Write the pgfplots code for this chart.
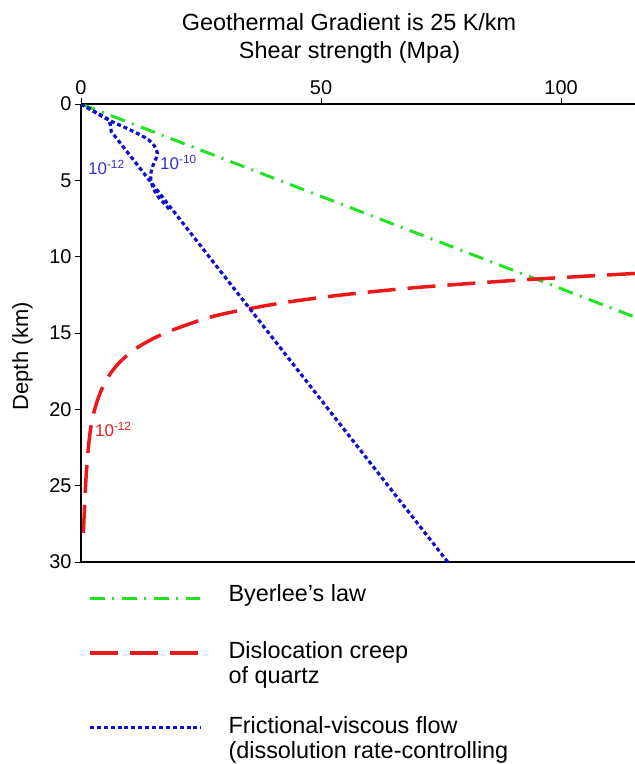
\documentclass[border=0pt]{standalone}
\usepackage{pgfplots}
\pgfplotsset{compat=1.18}
\usepackage{fontspec}
\setmainfont{Liberation Sans}
\definecolor{bgreen}{RGB}{35,225,35}
\definecolor{cred}{RGB}{235,25,25}
\definecolor{fblue}{RGB}{15,15,205}
\definecolor{lblue}{RGB}{50,50,200}
\tikzset{
  byer/.style={bgreen, line width=3bp, dash pattern=on 15bp off 7.5bp on 2bp off 7.5bp},
  creep/.style={cred, line width=3.5bp, dash pattern=on 28bp off 12bp},
  fv/.style={fblue, line width=3.2bp, dash pattern=on 4bp off 2.9bp},
}
\pgfplotsset{
  legbyer/.style={legend image code/.code={\path (0bp,0bp); \draw[byer] (0bp,2.3bp) -- (110bp,2.3bp);}},
  legcreep/.style={legend image code/.code={\path (0bp,0bp); \draw[creep] (0bp,30.7bp) -- (108bp,30.7bp);}},
  legfv/.style={legend image code/.code={\path (0bp,0bp); \draw[fv] (0bp,31bp) -- (111bp,31bp);}},
}
\begin{document}
\begin{tikzpicture}
\path[use as bounding box, clip] (0,0) rectangle (635bp,-764bp);
\node[anchor=base, font=\fontsize{23.5}{25}\selectfont] at (349bp,-30.7bp) {Geothermal Gradient is 25 K/km};
\node[anchor=base, font=\fontsize{23.5}{25}\selectfont] at (349.5bp,-58.3bp) {Shear strength (Mpa)};
\node[rotate=90, anchor=base, font=\fontsize{22}{24}\selectfont] at (28bp,-356bp) {Depth (km)};
\begin{axis}[
  at={(81bp,-104bp)}, anchor=north west,
  scale only axis, width=554bp, height=458bp,
  xmin=0, xmax=115.4, ymin=0, ymax=30,
  y dir=reverse,
  axis x line*=box, axis y line*=left,
  axis line style={line width=2.6bp, -},
  xtick={0,50,100}, ytick={0,5,...,30},
  xtick pos=right, xticklabel pos=right,
  tick align=outside,
  major tick length=6bp,
  tick style={line width=0.8bp, black},
  /pgf/number format/assume math mode=true,
  ticklabel style={font=\fontsize{20}{22}\selectfont},
  legend style={at={(0.01264,-0.0437)}, anchor=north west, draw=none, fill=none,
    inner sep=0pt, row sep=27.3bp, column sep=24bp,
    font=\fontsize{23.5}{25}\selectfont,
    cells={anchor=base west, align=left, inner sep=0pt}},
]
\addplot[forget plot, byer]
  coordinates {(0,0) (115.4,13.96)};
\addplot[forget plot, creep, smooth, tension=0.5]
  coordinates {(115.4,11.1) (93,11.5) (70.7,12.0) (54.5,12.5) (42.5,13.0) (33.5,13.5)
  (26.5,14.0) (17.5,15.0) (11.5,16.0) (7.8,17.0) (5.4,18.0) (3.9,19.0) (2.85,20.0)
  (2.15,21.0) (1.7,22.0) (1.4,23.0) (1.15,24.0) (0.95,25.0) (0.8,26.0) (0.65,27.0)
  (0.5,28.0) (0.45,28.4)};
\addplot[forget plot, fv]
  coordinates {(0,0) (2,0.36) (4,0.71) (5.8,1.02) (6.1,1.35) (6.3,1.8) (76.4,30)};
\addplot[forget plot, fv, smooth, tension=0.5]
  coordinates {(0,0) (5.8,1.05) (9.6,1.6) (12.5,2.05) (14.1,2.35) (15.3,2.75) (15.9,3.2)
  (15.6,3.6) (14.9,4.1) (14.5,4.7) (14.8,5.3) (15.9,6.0) (17.3,6.5) (18.6,6.97)};
\node[anchor=base west, text=cred, font=\fontsize{17}{19}\selectfont, inner sep=0pt]
  at (axis cs:2.9,21.8) {10\textsuperscript{-12}};
\node[anchor=base west, text=lblue, font=\fontsize{17}{19}\selectfont, inner sep=0pt]
  at (axis cs:1.46,4.65) {10\textsuperscript{-12}};
\node[anchor=base west, text=lblue, font=\fontsize{17}{19}\selectfont, inner sep=0pt]
  at (axis cs:16.46,4.32) {10\textsuperscript{-10}};
\addlegendimage{byer, legbyer}
\addlegendentry{Byerlee’s law}
\addlegendimage{creep, legcreep}
\addlegendentry{\rule{0pt}{24.8bp}Dislocation creep\\of quartz}
\addlegendimage{fv, legfv}
\addlegendentry{Frictional-viscous flow\\(dissolution rate-controlling}
\end{axis}
\end{tikzpicture}
\end{document}
